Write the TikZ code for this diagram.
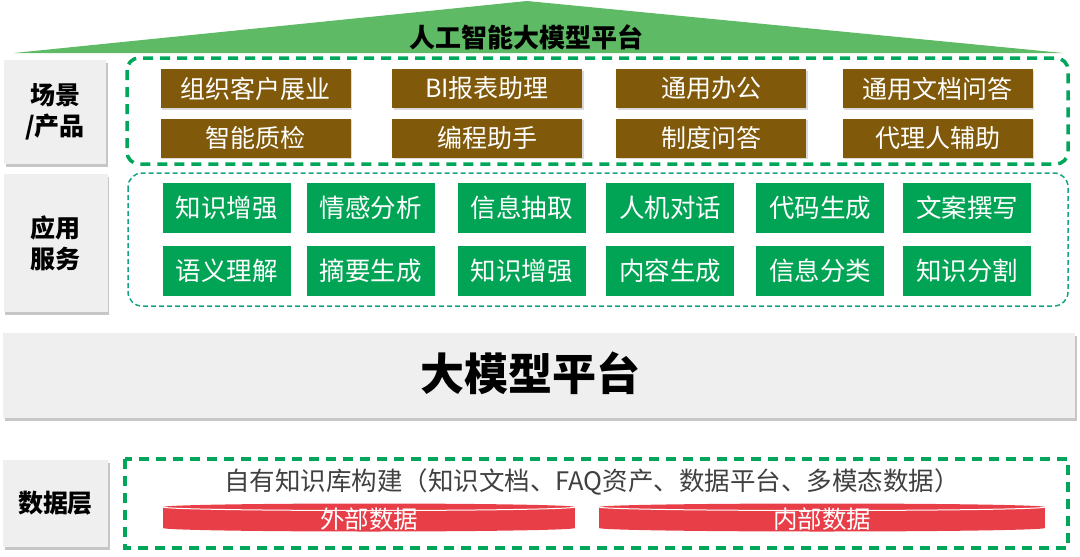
\documentclass[tikz,border=0pt]{standalone}
\usepackage{fontspec}
\setmainfont{Noto Sans CJK SC}
\usetikzlibrary{shadows}

\definecolor{roofgreen}{RGB}{94,186,100}
\definecolor{dashgreen}{RGB}{0,166,90}
\definecolor{tealdash}{RGB}{22,164,130}
\definecolor{appgreen}{RGB}{0,164,84}
\definecolor{scenebrown}{RGB}{128,90,10}
\definecolor{panelgray}{RGB}{239,239,239}
\definecolor{dbred}{RGB}{232,62,72}
\definecolor{textgray}{RGB}{64,64,64}

\tikzset{
  sidelabel/.style={fill=panelgray, inner sep=0pt, align=center,
    font=\fontsize{25}{31}\selectfont\bfseries,
    drop shadow={shadow xshift=1.5pt, shadow yshift=-3pt, opacity=0.45}},
  scenebox/.style={fill=scenebrown, text=white, inner sep=0pt,
    minimum width=190pt, minimum height=39pt,
    font=\fontsize{25}{25}\selectfont,
    drop shadow={shadow xshift=1.5pt, shadow yshift=-1.5pt, opacity=0.3}},
  appbox/.style={fill=appgreen, text=white, inner sep=0pt,
    minimum width=128pt, minimum height=50pt,
    font=\fontsize{25.5}{25.5}\selectfont},
  thickdash/.style={dashgreen, line width=3.5pt, dash pattern=on 10pt off 7pt},
}

\begin{document}
\begin{tikzpicture}[x=1pt, y=-1pt]
  \useasboundingbox (0,0) rectangle (1080,557);

  % roof
  \fill[roofgreen] (14,53) -- (527,1) -- (1063,53) -- cycle;
  \node[font=\fontsize{26}{26}\selectfont\bfseries] (roof) at (526,37) {人工智能大模型平台};

  % scene / products
  \node[sidelabel, minimum width=102pt, minimum height=104pt] (scenelbl) at (55,112) {场景\\/产品};
  \draw[thickdash, rounded corners=12pt] (127,58) rectangle (1068,164);
  \foreach \cx/\rowa/\rowb [count=\i] in {255.5/组织客户展业/智能质检, 487/BI报表助理/编程助手,
      711/通用办公/制度问答, 937.5/通用文档问答/代理人辅助} {
    \node[scenebox] (scene-a\i) at (\cx,88.5) {\rowa};
    \node[scenebox] (scene-b\i) at (\cx,138) {\rowb};
  }

  % application services
  \node[sidelabel, minimum width=104pt, minimum height=138pt] (applbl) at (55.5,243) {应用\\服务};
  \draw[tealdash, line width=1.5pt, dash pattern=on 5pt off 3pt, rounded corners=14pt]
    (128,173) rectangle (1068,306);
  \foreach \cx/\rowa/\rowb [count=\i] in {226.5/知识增强/语义理解, 370.5/情感分析/摘要生成,
      521.5/信息抽取/知识增强, 670/人机对话/内容生成, 820/代码生成/信息分类, 967/文案撰写/知识分割} {
    \node[appbox] (app-a\i) at (\cx,208) {\rowa};
    \node[appbox] (app-b\i) at (\cx,270.5) {\rowb};
  }

  % platform bar
  \node[sidelabel, minimum width=1072pt, minimum height=85pt] (platform) at (539,375.5) {};
  \node[font=\fontsize{44}{44}\selectfont\bfseries] (platformtxt) at (530,373) {大模型平台};

  % data layer
  \node[sidelabel, minimum width=105pt, minimum height=87pt] (datalbl) at (55.5,503.5) {数据层};
  \draw[thickdash] (125,459) rectangle (1068,548);
  \node[text=textgray, font=\fontsize{25.5}{25.5}\selectfont] (kb) at (592,482) {自有知识库构建（知识文档、FAQ资产、数据平台、多模态数据）};
  \foreach \xa/\xb/\txt [count=\i] in {163/575/外部数据, 599/1045/内部数据} {
    \fill[dbred] (\xa,507) rectangle (\xb,528);
    \fill[dbred] ({(\xa+\xb)/2},528) ellipse[x radius={(\xb-\xa)/2}, y radius=3.5];
    \fill[dbred] ({(\xa+\xb)/2},507) ellipse[x radius={(\xb-\xa)/2}, y radius=3.5];
    \draw[white, line width=1pt] (\xa,507) arc[start angle=180, end angle=0,
      x radius={(\xb-\xa)/2}, y radius=3.5];
    \node[text=white, font=\fontsize{24.5}{24.5}\selectfont] (db\i) at ({(\xa+\xb)/2},519) {\txt};
  }
\end{tikzpicture}
\end{document}
